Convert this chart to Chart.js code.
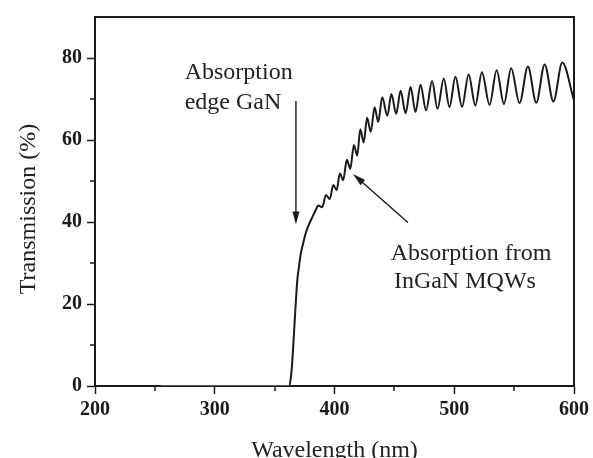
<!DOCTYPE html>
<html>
<head>
<meta charset="utf-8">
<script src="https://cdn.jsdelivr.net/npm/chart.js@4"></script>
<style>
  html, body { margin: 0; padding: 0; background: #fff; }
</style>
</head>
<body>
<canvas id="chart" width="593" height="458"></canvas>
<script>
// Transmission spectrum, values
const wavelength = [
  255, 300, 340, 362.3, 363.5, 364.5, 365.5, 366.5, 367.8, 369, 370.5, 372, 374, 376, 378.5, 381.5, 384.2,
  386.5, 389.8, 392.8, 396, 399, 401.8, 404.5, 407.3, 410.3, 413.2, 416.2, 419, 421.5, 424.4, 427.2, 430.3,
  433.5, 436.5, 439.9, 444.1, 447.5, 451.5, 455.2, 459.4, 463.5, 467.7, 471.8, 476.5, 481.5, 486, 491.3, 496,
  501, 506.5, 512, 517.6, 523.1, 529.5, 535.4, 541.5, 547.5, 554.5, 561.5, 568.5, 575.5, 582.8, 590.2, 600
];
const transmission = [
  0, 0, 0, 0, 2, 5, 9.5, 14.5, 21, 26, 29.5, 32.5, 35, 37.3, 39.3, 41.2, 42.8,
  44.0, 43.6, 46.6, 45.6, 49.0, 47.8, 51.8, 50.2, 55.2, 53.0, 58.8, 56.2, 62.6, 59.4, 65.4, 62.0,
  68.0, 64.4, 70.4, 65.9, 71.2, 66.4, 72.0, 66.5, 72.9, 66.8, 73.5, 67.2, 74.4, 67.6, 75.0, 68.0,
  75.4, 68.1, 76.0, 68.4, 76.5, 68.6, 77.0, 68.8, 77.5, 69.0, 77.9, 69.1, 78.4, 69.4, 78.9, 69.6
];

const xTicks = [200, 300, 400, 500, 600];
const xMinorTicks = [250, 350, 450, 550];
const yTicks = [0, 20, 40, 60, 80];
const yMinorTicks = [10, 30, 50, 70];

// annotation texts (left / baseline, data units) and arrows
const noteText = ['Absorption', 'edge GaN', 'Absorption from', 'InGaN MQWs'];
const noteX = [274.9, 274.9, 446.9, 449.6];
const noteY = [75.0, 67.5, 30.7, 23.8];
const arrowFrom = [[367.8, 69.5], [461.3, 39.9]];
const arrowTo = [[367.8, 39.4], [415.5, 51.7]];

const ink = '#1a1a1a';
const serif = "'Liberation Serif', 'Times New Roman', serif";

function arrow(ctx, x1, y1, x2, y2) {
  const ang = Math.atan2(y2 - y1, x2 - x1);
  const len = 13, half = 3.5;
  ctx.beginPath();
  ctx.moveTo(x1, y1);
  ctx.lineTo(x2 - Math.cos(ang) * len * 0.8, y2 - Math.sin(ang) * len * 0.8);
  ctx.stroke();
  ctx.beginPath();
  ctx.moveTo(x2, y2);
  ctx.lineTo(x2 - Math.cos(ang) * len + Math.sin(ang) * half, y2 - Math.sin(ang) * len - Math.cos(ang) * half);
  ctx.lineTo(x2 - Math.cos(ang) * len - Math.sin(ang) * half, y2 - Math.sin(ang) * len + Math.cos(ang) * half);
  ctx.closePath();
  ctx.fill();
}

const extras = {
  id: 'extras',
  afterDraw(chart) {
    const ctx = chart.ctx;
    const area = chart.chartArea;
    const xs = chart.scales.x, ys = chart.scales.y;
    ctx.save();
    ctx.strokeStyle = ink;
    ctx.fillStyle = ink;

    // top and right frame
    ctx.lineWidth = 2;
    ctx.beginPath();
    ctx.moveTo(area.left, area.top);
    ctx.lineTo(area.right, area.top);
    ctx.lineTo(area.right, area.bottom);
    ctx.stroke();

    // minor ticks
    ctx.lineWidth = 1.5;
    ctx.beginPath();
    xMinorTicks.forEach(v => {
      const px = Math.round(xs.getPixelForValue(v));
      ctx.moveTo(px, area.bottom);
      ctx.lineTo(px, area.bottom + 5);
    });
    yMinorTicks.forEach(v => {
      const py = Math.round(ys.getPixelForValue(v));
      ctx.moveTo(area.left, py);
      ctx.lineTo(area.left - 5, py);
    });
    ctx.stroke();

    // arrows
    ctx.lineWidth = 1.4;
    for (let i = 0; i < arrowFrom.length; i++) {
      arrow(ctx,
        xs.getPixelForValue(arrowFrom[i][0]), ys.getPixelForValue(arrowFrom[i][1]),
        xs.getPixelForValue(arrowTo[i][0]), ys.getPixelForValue(arrowTo[i][1]));
    }

    // notes
    ctx.fillStyle = '#222';
    ctx.font = '24px ' + serif;
    ctx.textAlign = 'left';
    ctx.textBaseline = 'alphabetic';
    noteText.forEach((t, i) => {
      ctx.fillText(t, xs.getPixelForValue(noteX[i]), ys.getPixelForValue(noteY[i]));
    });

    // axis titles
    ctx.textAlign = 'center';
    ctx.fillText('Wavelength (nm)', (area.left + area.right) / 2, 457);
    ctx.translate(35, 209);
    ctx.rotate(-Math.PI / 2);
    ctx.fillText('Transmission (%)', 0, 0);
    ctx.restore();
  }
};

const tickFont = { family: serif, size: 20, weight: 'bold' };

new Chart(document.getElementById('chart'), {
  type: 'line',
  data: {
    datasets: [{
      data: wavelength.map((x, i) => ({ x: x, y: transmission[i] })),
      borderColor: ink,
      borderWidth: 2,
      pointRadius: 0,
      cubicInterpolationMode: 'monotone',
      segment: {
        borderColor: c => c.p1.parsed.x <= 362.3 ? '#a0a0a0' : ink,
        borderWidth: c => c.p1.parsed.x <= 362.3 ? 1.2 : 2
      }
    }]
  },
  options: {
    responsive: false,
    animation: false,
    devicePixelRatio: 1,
    layout: { padding: { left: 0, right: 17, top: 12, bottom: 0 } },
    plugins: { legend: { display: false }, tooltip: { enabled: false } },
    scales: {
      x: {
        type: 'linear',
        min: 200,
        max: 600,
        afterBuildTicks: s => { s.ticks = xTicks.map(v => ({ value: v })); },
        afterFit: s => { s.height = 72; },
        border: { display: true, color: ink, width: 2 },
        grid: { drawOnChartArea: false, drawTicks: true, tickLength: 8, tickColor: ink, tickWidth: 1.5 },
        ticks: { font: tickFont, color: ink, padding: 4, maxRotation: 0 }
      },
      y: {
        type: 'linear',
        min: 0,
        max: 90,
        afterBuildTicks: s => { s.ticks = yTicks.map(v => ({ value: v })); },
        afterFit: s => { s.width = 95; },
        border: { display: true, color: ink, width: 2 },
        grid: { drawOnChartArea: false, drawTicks: true, tickLength: 8, tickColor: ink, tickWidth: 1.5 },
        ticks: { font: tickFont, color: ink, padding: 5 }
      }
    }
  },
  plugins: [extras]
});
</script>
</body>
</html>
